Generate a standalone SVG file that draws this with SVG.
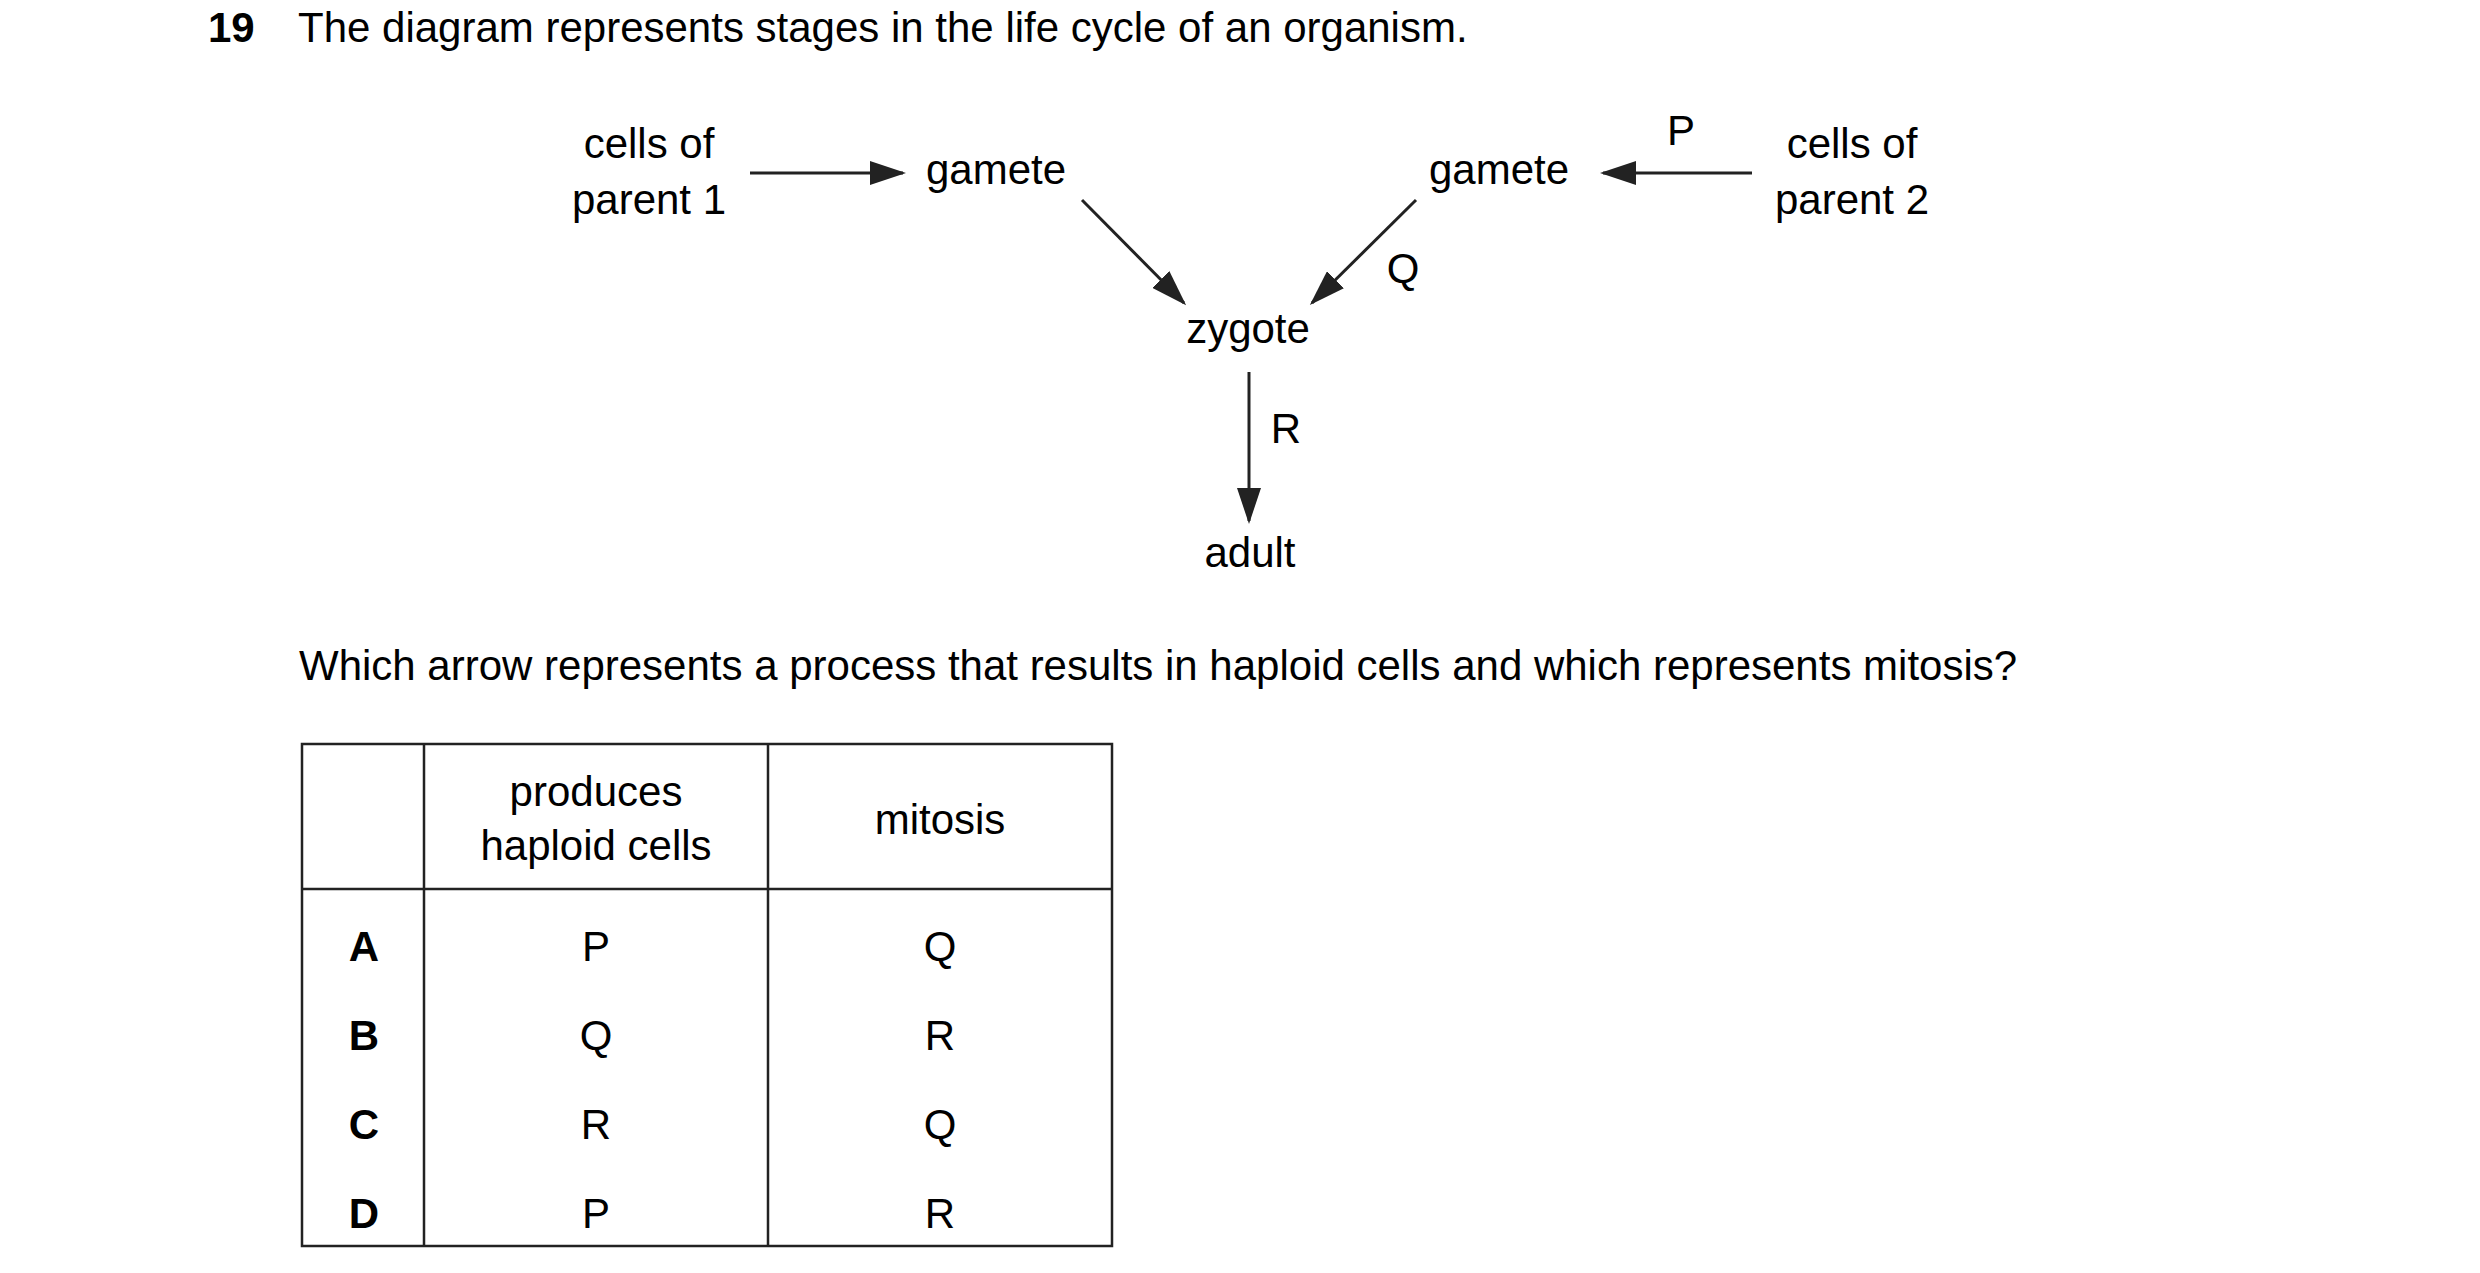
<svg xmlns="http://www.w3.org/2000/svg" width="2480" height="1273" viewBox="0 0 2480 1273">
<defs>
<style>
text{font-family:"Liberation Sans",Arial,sans-serif;font-size:42px;fill:#000}
.c{text-anchor:middle}
.b{font-weight:bold}
.ln{stroke:#222;stroke-width:3;fill:none}
.tb{stroke:#222;stroke-width:2.5;fill:none}
</style>
<marker id="ah" markerWidth="12" markerHeight="8" refX="11" refY="4" orient="auto" markerUnits="strokeWidth"><path d="M0,0 L12,4 L0,8 Z" fill="#222"/></marker>
</defs>
<rect width="2480" height="1273" fill="#fff"/>
<text x="208" y="42" class="b">19</text>
<text x="298" y="42">The diagram represents stages in the life cycle of an organism.</text>
<g id="parent1"><text x="649" y="158" class="c">cells of</text><text x="649" y="214" class="c">parent 1</text></g>
<g id="gamete1"><text x="996" y="184" class="c">gamete</text></g>
<g id="gamete2"><text x="1499" y="184" class="c">gamete</text></g>
<g id="parent2"><text x="1852" y="158" class="c">cells of</text><text x="1852" y="214" class="c">parent 2</text></g>
<g id="zygote"><text x="1248" y="343" class="c">zygote</text></g>
<g id="adult"><text x="1250" y="567" class="c">adult</text></g>
<g id="connectors">
<line class="ln" x1="750" y1="173" x2="903" y2="173" marker-end="url(#ah)"/>
<line class="ln" x1="1752" y1="173" x2="1603" y2="173" marker-end="url(#ah)"/>
<line class="ln" x1="1082" y1="200" x2="1184" y2="303" marker-end="url(#ah)"/>
<line class="ln" x1="1416" y1="200" x2="1312" y2="303" marker-end="url(#ah)"/>
<line class="ln" x1="1249" y1="372" x2="1249" y2="521" marker-end="url(#ah)"/>
<text x="1681" y="145" class="c">P</text>
<text x="1403" y="283" class="c">Q</text>
<text x="1286" y="443" class="c">R</text>
</g>
<text x="299" y="680">Which arrow represents a process that results in haploid cells and which represents mitosis?</text>
<g id="table">
<rect class="tb" x="302" y="744" width="810" height="502"/>
<line class="tb" x1="302" y1="889" x2="1112" y2="889"/>
<line class="tb" x1="424" y1="744" x2="424" y2="1246"/>
<line class="tb" x1="768" y1="744" x2="768" y2="1246"/>
<text x="596" y="806" class="c">produces</text>
<text x="596" y="860" class="c">haploid cells</text>
<text x="940" y="834" class="c">mitosis</text>
<text x="364" y="961" class="c b">A</text><text x="596" y="961" class="c">P</text><text x="940" y="961" class="c">Q</text>
<text x="364" y="1050" class="c b">B</text><text x="596" y="1050" class="c">Q</text><text x="940" y="1050" class="c">R</text>
<text x="364" y="1139" class="c b">C</text><text x="596" y="1139" class="c">R</text><text x="940" y="1139" class="c">Q</text>
<text x="364" y="1228" class="c b">D</text><text x="596" y="1228" class="c">P</text><text x="940" y="1228" class="c">R</text>
</g>
</svg>
